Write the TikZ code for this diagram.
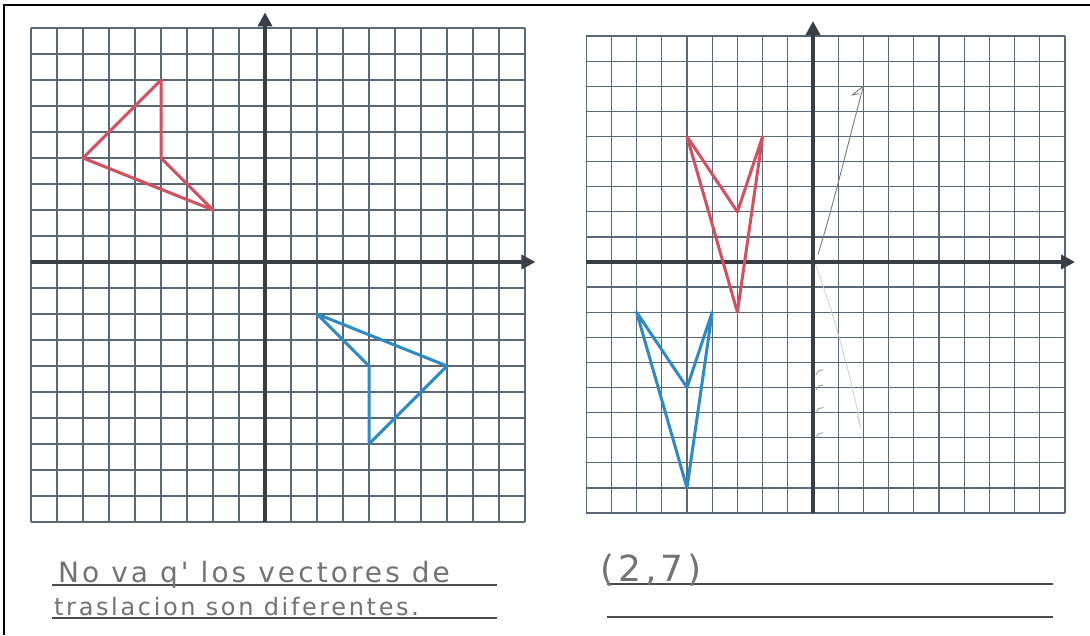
\documentclass[tikz,border=0pt]{standalone}
\usepackage{fontspec}
\newfontfamily\handfont{DejaVu Sans}[LetterSpace=11]
\usetikzlibrary{arrows.meta}
\definecolor{gridblue}{HTML}{5A6878}
\definecolor{axisgray}{HTML}{3A3F47}
\definecolor{penred}{HTML}{D4505E}
\definecolor{penblue}{HTML}{2C8AC6}
\definecolor{pencil}{HTML}{7A7A7A}
\tikzset{
 gridline/.style={draw=gridblue,line width=1.3pt},
 axisline/.style={draw=axisgray,line width=4.5pt,-{Triangle[length=14pt,width=14pt]}},
 redshape/.style={draw=penred,line width=3pt,line join=round},
 blueshape/.style={draw=penblue,line width=3pt,line join=round},
 pencilline/.style={draw=pencil,line width=.9pt,line cap=round,line join=round},
 faintline/.style={draw=pencil!35,line width=.8pt,line cap=round},
 ruleline/.style={draw=black!70,line width=1.4pt},
 handtext/.style={text=black!55,anchor=base west,inner sep=0}
}

\begin{document}
\begin{tikzpicture}[x=1pt,y=1pt]
\path[use as bounding box] (0,0) rectangle (1090,635);
\draw[line width=2pt] (1090,630) -- (4,630) -- (4,0);
% left plane
\begin{scope}[shift={(265pt,373pt)},x=26pt,y=26pt]
\draw[gridline,step=1] (-9,-10) grid (10,9);
\draw[axisline] (-9,0) -- (10.4,0);
\draw[axisline] (0,-10) -- (0,9.6);
\draw[redshape] (-4,7) -- (-4,4) -- (-2,2) -- (-7,4) -- cycle;
\draw[blueshape] (2,-2) -- (7,-4) -- (4,-7) -- (4,-4) -- cycle;
\end{scope}
% right plane
\begin{scope}[shift={(813pt,373pt)},x=25.2pt,y=25.1pt]
\draw[gridline,step=1] (-9,-10) grid (10,9);
\draw[axisline] (-9,0) -- (10.4,0);
\draw[axisline] (0,-10) -- (0,9.6);
\draw[redshape] (-5,5) -- (-3,2) -- (-2,5) -- (-3,-2) -- cycle;
\draw[blueshape] (-7,-2) -- (-5,-5) -- (-4,-2) -- (-5,-9) -- cycle;
\coordinate (tail) at (0.2,0.3);
\coordinate (tip) at (2,7);
\draw[pencilline] (tail) .. controls (0.9,2.6) and (1.4,4.8) .. (tip);
\draw[pencilline] (tip) -- ++(-0.45,-0.35) -- ++(0.25,0.05);
\draw[faintline] (0.1,-0.1) .. controls (0.8,-2) and (1.5,-4.5) .. (1.9,-6.6);
\draw[faintline] (1.9,-6.6) -- ++(-0.15,0.45);
\draw[pencilline,draw=pencil!70] (0.12,-4.5) -- (0.2,-4.35) -- (0.4,-4.3);
\draw[pencilline,draw=pencil!70] (0.12,-5.1) -- (0.2,-4.95) -- (0.4,-4.9);
\draw[pencilline,draw=pencil!70] (0.12,-6) -- (0.2,-5.85) -- (0.4,-5.8);
\draw[pencilline,draw=pencil!70] (0.12,-7) -- (0.2,-6.85) -- (0.4,-6.8);
\end{scope}
% answers
\draw[ruleline] (52,50) -- (497,50);
\draw[ruleline] (52,17) -- (497,17);
\draw[ruleline] (607,51) -- (1053,51);
\draw[ruleline] (607,18) -- (1053,18);
\node[handtext,font=\handfont\fontsize{28}{32}\selectfont] (note1) at (58,53) {No va q' los vectores de};
\node[handtext,font=\handfont\fontsize{24}{28}\selectfont] (note2) at (54,20) {traslacion son diferentes.};
\node[handtext,font=\handfont\fontsize{36}{40}\selectfont] (answer) at (600,54) {(2,7)};
\end{tikzpicture}
\end{document}
